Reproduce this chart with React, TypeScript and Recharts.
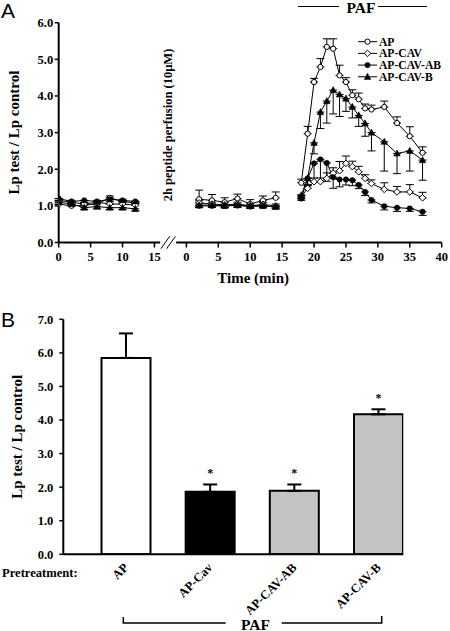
import React from 'react';
import {
  LineChart, Line, XAxis, YAxis, ErrorBar, ReferenceLine, Legend,
  BarChart, Bar, Cell, LabelList,
} from 'recharts';

const SERIF = '"Liberation Serif", "Times New Roman", Times, serif';
const SANS = '"Liberation Sans", Arial, sans-serif';

// ---------------- Panel A data ----------------
const seriesNames = ['AP', 'AP-CAV', 'AP-CAV-AB', 'AP-CAV-B'];
const restTimes = [0, 2, 4, 6, 8, 10, 12];
const peptideTimes = [2, 4, 6, 8, 10, 12, 14];
const pafTimes = [18, 19, 20, 21, 22, 23, 24, 25, 26, 27, 28, 29, 31, 33, 35, 37];
const leftTickLabels = [0, 5, 10, 15];
const rightTickLabels = [0, 5, 10, 15, 20, 25, 30, 35, 40];
const yTicksA = [0, 1, 2, 3, 4, 5, 6];

// baseline (before peptide)
const apRest = [1.05, 1.0, 1.02, 1.05, 1.22, 1.12, 1.08];
const apCavRest = [1.15, 1.1, 1.05, 1.1, 1.05, 1.05, 1.02];
const apCavAbRest = [1.2, 1.12, 1.15, 1.12, 1.18, 1.15, 1.12];
const apCavBRest = [1.1, 1.05, 0.95, 0.98, 0.95, 0.95, 0.92];
const apRestErr = [0.06, 0.04, 0.05, 0.06, 0.05, 0.06, 0.05];
const apCavRestErr = [0.05, 0.05, 0.04, 0.05, 0.06, 0.05, 0.05];
const apCavAbRestErr = [0.05, 0.04, 0.05, 0.05, 0.05, 0.04, 0.05];
const apCavBRestErr = [0.06, 0.05, 0.05, 0.06, 0.05, 0.05, 0.06];

// after 2h peptide perfusion
const apPep = [1.18, 1.15, 1.1, 1.2, 1.05, 1.15, 1.22];
const apCavPep = [1.08, 1.05, 1.03, 1.05, 1.0, 1.04, 1.0];
const apCavAbPep = [1.0, 1.0, 1.0, 1.01, 0.98, 1.0, 0.98];
const apCavBPep = [1.02, 1.02, 1.0, 1.02, 1.0, 1.0, 0.97];
const apPepErr = [0.25, 0.16, 0.12, 0.12, 0.12, 0.12, 0.16];
const apCavPepErr = [0.06, 0.05, 0.05, 0.05, 0.05, 0.05, 0.05];
const apCavAbPepErr = [0.05, 0.04, 0.05, 0.05, 0.05, 0.05, 0.04];
const apCavBPepErr = [0.05, 0.05, 0.04, 0.05, 0.05, 0.04, 0.05];

// PAF
const apPaf = [1.63, 2.97, 4.38, 4.79, 5.34, 5.29, 4.56, 4.38, 4.02, 3.91, 3.66, 3.63, 3.7, 3.26, 2.9, 2.45];
const apCavPaf = [1.25, 1.48, 1.66, 1.66, 1.75, 1.89, 1.96, 2.16, 2.07, 1.93, 1.75, 1.61, 1.45, 1.38, 1.38, 1.22];
const apCavAbPaf = [1.2, 1.75, 2.16, 2.27, 2.17, 1.78, 1.72, 1.72, 1.7, 1.57, 1.38, 1.16, 0.99, 0.95, 0.93, 0.84];
const apCavBPaf = [1.29, 1.75, 2.72, 3.56, 3.86, 4.16, 4.04, 3.93, 3.7, 3.47, 3.25, 3.0, 2.75, 2.43, 2.5, 2.25];
const apPafErr = [0.1, 0.2, 0.1, 0.23, 0.22, 0.27, 0.28, 0.12, 0.15, 0.17, 0.12, 0.12, 0.16, 0.17, 0.26, 0.16];
const apCavPafErr = [0.05, 0.1, 0.1, 0.1, 0.15, 0.15, 0.25, 0.2, 0.15, 0.15, 0.1, 0.1, 0.18, 0.15, 0.2, 0.15];
const apCavAbPafErr = [0.05, 0.2, 0.5, 0.6, 0.5, 0.3, 0.2, 0.15, 0.15, 0.1, 0.1, 0.08, 0.1, 0.1, 0.08, 0.1];
const apCavBPafErr = [0.1, 0.2, 0.3, 0.45, 0.6, 0.65, 0.6, 0.35, 0.3, 0.3, 0.35, 0.5, 0.8, 0.55, 0.55, 0.55];

// ---------------- Panel B data ----------------
const treatments = ['AP', 'AP-Cav', 'AP-CAV-AB', 'AP-CAV-B'];
const ratioMeans = [5.85, 1.86, 1.89, 4.17];
const ratioSem = [0.73, 0.22, 0.19, 0.15];
const significance = ['', '*', '*', '*'];
const yTicksB = [0, 1, 2, 3, 4, 5, 6, 7];

const BAR_FILLS = ['#ffffff', '#000000', '#c3c3c3', '#c3c3c3'];

// ---------------- build tables ----------------
const BREAK_OFFSET = 20; // broken time axis: second part shifted
const errDir: Record<string, 'up' | 'down'> = { AP: 'up', 'AP-CAV': 'up', 'AP-CAV-AB': 'down', 'AP-CAV-B': 'down' };

function segmentRows(times: number[], offset: number, values: number[][], errors: number[][]) {
  return times.map((t, i) => {
    const row: any = { u: t + offset };
    seriesNames.forEach((n, k) => {
      row[n] = values[k][i];
      const e = errors[k][i];
      row[n + '_err'] = errDir[n] === 'up' ? [0, e] : [e, 0];
    });
    return row;
  });
}

const lineData = [
  ...segmentRows(restTimes, 0, [apRest, apCavRest, apCavAbRest, apCavBRest], [apRestErr, apCavRestErr, apCavAbRestErr, apCavBRestErr]),
  { u: 16 },
  ...segmentRows(peptideTimes, BREAK_OFFSET, [apPep, apCavPep, apCavAbPep, apCavBPep], [apPepErr, apCavPepErr, apCavAbPepErr, apCavBPepErr]),
  { u: 36 },
  ...segmentRows(pafTimes, BREAK_OFFSET, [apPaf, apCavPaf, apCavAbPaf, apCavBPaf], [apPafErr, apCavPafErr, apCavAbPafErr, apCavBPafErr]),
];

const timeTicks = [...leftTickLabels, ...rightTickLabels.map((t) => t + BREAK_OFFSET)];
const timeFmt = (v: number) => String(v <= 15 ? v : v - BREAK_OFFSET);

const barData = treatments.map((name, i) => ({
  pos: i + 1,
  name,
  mean: ratioMeans[i],
  err: [0, ratioSem[i]],
  sig: significance[i],
}));

// ---------------- helpers ----------------
function markerEl(kind: string, cx: number, cy: number, key?: any) {
  switch (kind) {
    case 'AP':
      return <circle key={key} cx={cx} cy={cy} r={2.6} fill="#fff" stroke="#000" strokeWidth={1} />;
    case 'AP-CAV':
      return (
        <path key={key} d={`M${cx},${cy - 3.3}L${cx + 3.3},${cy}L${cx},${cy + 3.3}L${cx - 3.3},${cy}Z`}
          fill="#fff" stroke="#000" strokeWidth={1} />
      );
    case 'AP-CAV-AB':
      return <circle key={key} cx={cx} cy={cy} r={2.7} fill="#000" stroke="#000" strokeWidth={0.5} />;
    default:
      return (
        <path key={key} d={`M${cx},${cy - 3.6}L${cx + 3.3},${cy + 2.6}L${cx - 3.3},${cy + 2.6}Z`}
          fill="#000" stroke="#000" strokeWidth={0.5} />
      );
  }
}

const makeDot = (kind: string) => (props: any) => {
  const { cx, cy, index } = props;
  if (cx == null || cy == null || Number.isNaN(cx) || Number.isNaN(cy)) return <g key={`e${kind}${index}`} />;
  return markerEl(kind, cx, cy, `d${kind}${index}`);
};

const renderLegendA = (props: any) => {
  const payload = props.payload || [];
  return (
    <svg width={95} height={50} style={{ overflow: 'visible' }}>
      {payload.map((p: any, i: number) => {
        const y = 5.7 + i * 11.7;
        return (
          <g key={String(p.value)}>
            <line x1={3} x2={22} y1={y} y2={y} stroke="#000" strokeWidth={1} />
            {markerEl(String(p.value), 12.5, y)}
            <text x={24} y={y + 3.9} fontFamily={SERIF} fontWeight="bold" fontSize={11.6} fill="#000">
              {p.value}
            </text>
          </g>
        );
      })}
    </svg>
  );
};

const yTitle = (x: number) => (props: any) => {
  const vb = props.viewBox || {};
  const cy = (vb.y ?? 0) + (vb.height ?? 0) / 2;
  return (
    <text x={x} y={cy} transform={`rotate(-90, ${x}, ${cy})`} textAnchor="middle" dominantBaseline="central"
      fontFamily={SERIF} fontWeight="bold" fontSize={15} fill="#000">
      Lp test / Lp control
    </text>
  );
};

const xTitleA = (props: any) => {
  const vb = props.viewBox || {};
  const cx = (vb.x ?? 0) + (vb.width ?? 0) / 2 + 3;
  const y = (vb.y ?? 0) + 40;
  return (
    <text x={cx} y={y} textAnchor="middle" fontFamily={SERIF} fontWeight="bold" fontSize={15} fill="#000">
      Time (min)
    </text>
  );
};

const CategoryTick = (props: any) => {
  const { x, y, payload } = props;
  const label = treatments[Number(payload.value) - 1] ?? '';
  return (
    <g transform={`translate(${x + 3.5},${y + 6})`}>
      <text transform="rotate(-45)" textAnchor="end" fontFamily={SERIF} fontWeight="bold" fontSize={12.5} fill="#000">
        {label}
      </text>
    </g>
  );
};

const renderSig = (props: any) => {
  const { x, y, width, height, value, index } = props;
  if (!value) return null;
  const i = typeof index === 'number' ? index : significance.indexOf(value);
  const pxPerUnit = height / ratioMeans[i];
  const capY = y - pxPerUnit * ratioSem[i];
  return (
    <text x={x + width / 2} y={capY - 7} textAnchor="middle" fontFamily={SERIF} fontWeight="bold" fontSize={12} fill="#000">
      {value}
    </text>
  );
};

const tickStyle = { fontFamily: SERIF, fontSize: 12.5, fontWeight: 'bold', fill: '#000' } as any;

export default function App() {
  return (
    <div style={{ position: 'absolute', left: 0, top: 0, width: 450, height: 631, background: '#fff' }}>
      <div style={{ position: 'absolute', left: 0, top: 0 }}>
        <LineChart width={450} height={300} data={lineData} margin={{ top: 22.7, right: 8.3, left: 0, bottom: 27.5 }}>
          <XAxis
            type="number" dataKey="u" domain={[0, 60]} ticks={timeTicks} tickFormatter={timeFmt}
            allowDataOverflow axisLine={false} tickLine={{ stroke: '#000', strokeWidth: 1.5 }}
            tickSize={5} tickMargin={5} tick={tickStyle} height={30} interval={0}
            label={{ content: xTitleA }}
          />
          <YAxis
            domain={[0, 6]} ticks={yTicksA} tickFormatter={(v: number) => v.toFixed(1)} width={58.7}
            axisLine={{ stroke: '#000', strokeWidth: 2 }} tickLine={{ stroke: '#000', strokeWidth: 1.5 }}
            tickSize={4} tickMargin={1.5} tick={tickStyle} interval={0} allowDataOverflow
            label={{ content: yTitle(14) }}
          />
          <ReferenceLine segment={[{ x: 0, y: 0 }, { x: 15.9, y: 0 }]} stroke="#000" strokeWidth={2} ifOverflow="visible" />
          <ReferenceLine segment={[{ x: 18.4, y: 0 }, { x: 60, y: 0 }]} stroke="#000" strokeWidth={2} ifOverflow="visible" />
          <ReferenceLine segment={[{ x: 16.0, y: -0.17 }, { x: 17.4, y: 0.17 }]} stroke="#000" strokeWidth={1} ifOverflow="visible" />
          <ReferenceLine segment={[{ x: 16.9, y: -0.17 }, { x: 18.3, y: 0.17 }]} stroke="#000" strokeWidth={1} ifOverflow="visible" />
          {seriesNames.map((n) => (
            <Line
              key={n} type="linear" dataKey={n} name={n} stroke="#000" strokeWidth={1}
              dot={makeDot(n)} activeDot={false} isAnimationActive={false} connectNulls={false}
            >
              <ErrorBar dataKey={n + '_err'} width={4} stroke="#000" strokeWidth={1} direction="y" />
            </Line>
          ))}
          <Legend
            layout="horizontal" verticalAlign="middle" align="center" content={renderLegendA}
            wrapperStyle={{ left: 355, top: 36, width: 95, height: 50 }}
          />
        </LineChart>
      </div>

      <div style={{ position: 'absolute', left: 0, top: 300 }}>
        <BarChart width={450} height={331} data={barData} margin={{ top: 19.3, right: 46.7, left: 0, bottom: 36.7 }}>
          <XAxis
            type="number" dataKey="pos" domain={[0.26, 4.3]} ticks={[1, 2, 3, 4]} allowDataOverflow
            tick={<CategoryTick />} tickLine={false} axisLine={{ stroke: '#000', strokeWidth: 2 }}
            height={40} interval={0}
          />
          <YAxis
            domain={[0, 7]} ticks={yTicksB} tickFormatter={(v: number) => v.toFixed(1)} width={63.3}
            axisLine={{ stroke: '#000', strokeWidth: 2 }} tickLine={{ stroke: '#000', strokeWidth: 1.5 }}
            tickSize={4} tickMargin={6} tick={tickStyle} interval={0} allowDataOverflow
            label={{ content: yTitle(17) }}
          />
          <Bar dataKey="mean" barSize={49} stroke="#000" strokeWidth={2} isAnimationActive={false}>
            {barData.map((d, i) => (
              <Cell key={d.name} fill={BAR_FILLS[i]} />
            ))}
            <ErrorBar dataKey="err" width={7} stroke="#000" strokeWidth={2} direction="y" />
            <LabelList dataKey="sig" content={renderSig} />
          </Bar>
        </BarChart>
      </div>

      <svg width={450} height={631} style={{ position: 'absolute', left: 0, top: 0, pointerEvents: 'none' }}>
        <text x={1} y={18} fontFamily={SANS} fontSize={21} fill="#000">A</text>
        <text x={1} y={327} fontFamily={SANS} fontSize={21} fill="#000">B</text>

        <line x1={298} x2={339} y1={6.5} y2={6.5} stroke="#000" strokeWidth={1} />
        <text x={361} y={12.7} textAnchor="middle" fontFamily={SERIF} fontWeight="bold" fontSize={15.5} fill="#000">PAF</text>
        <line x1={378} x2={427} y1={6.5} y2={6.5} stroke="#000" strokeWidth={1} />

        <text x={168} y={125} transform="rotate(-90, 168, 125)" textAnchor="middle" dominantBaseline="central"
          fontFamily={SERIF} fontWeight="bold" fontSize={12.5} fill="#000">
          2h peptide perfusion (10µM)
        </text>

        <text x={2} y={577} fontFamily={SERIF} fontWeight="bold" fontSize={12.6} fill="#000">Pretreatment:</text>

        <path d="M123.3,617 V623 H225.7" fill="none" stroke="#000" strokeWidth={1.5} />
        <text x={255.5} y={629.5} textAnchor="middle" fontFamily={SERIF} fontWeight="bold" fontSize={15.5} fill="#000">PAF</text>
        <path d="M281.7,623 H381.7 V616" fill="none" stroke="#000" strokeWidth={1.5} />
      </svg>
    </div>
  );
}
